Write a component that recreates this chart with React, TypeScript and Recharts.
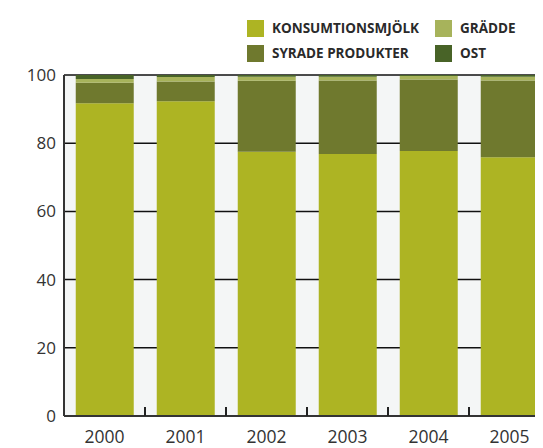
import { BarChart, Bar, XAxis, YAxis, CartesianGrid } from 'recharts';

const YEARS = ['2000', '2001', '2002', '2003', '2004', '2005'];
const KONSUMTIONSMJOLK = [91.7, 92.3, 77.5, 76.8, 77.7, 75.9];
const SYRADE = [6.0, 5.8, 20.8, 21.6, 21.0, 22.5];
const GRADDE = [1.1, 1.3, 1.2, 1.1, 1.0, 1.1];
const OST = [1.2, 0.6, 0.5, 0.5, 0.3, 0.5];
const Y_TICKS = [0, 20, 40, 60, 80, 100];

const SERIES = [
  { key: 'konsum', label: 'KONSUMTIONSMJÖLK', color: '#adb423' },
  { key: 'syrade', label: 'SYRADE PRODUKTER', color: '#6f792e' },
  { key: 'gradde', label: 'GRÄDDE', color: '#a7b35b' },
  { key: 'ost', label: 'OST', color: '#486327' },
];

const data = YEARS.map((year, i) => ({
  year,
  konsum: KONSUMTIONSMJOLK[i],
  syrade: SYRADE[i],
  gradde: GRADDE[i],
  ost: OST[i],
}));

const FONT = '"Open Sans", sans-serif';

// category label in the middle, small upward tick at the band's right edge
function YearTick(props: any) {
  const { x, y, payload, width, visibleTicksCount } = props;
  const band = width / (visibleTicksCount || YEARS.length);
  const edge = x + band / 2;
  const axisY = y - 8;
  return (
    <g>
      <line x1={edge} x2={edge} y1={axisY - 9} y2={axisY} stroke="#222" strokeWidth={2} />
      <text x={x} y={axisY + 15} dy="0.71em" textAnchor="middle" fontSize={17.5} fill="#333" fontFamily={FONT}>
        {payload.value}
      </text>
    </g>
  );
}

function LegendBox() {
  const order = [SERIES[0], SERIES[2], SERIES[1], SERIES[3]];
  return (
    <div
      style={{
        position: 'absolute',
        left: 239,
        top: 12,
        display: 'grid',
        gridTemplateColumns: '188px 100px',
        rowGap: 8,
        fontFamily: FONT,
        fontWeight: 700,
        fontSize: 13.5,
        lineHeight: '17px',
        color: '#2a2a2a',
      }}
    >
      {order.map((s) => (
        <div key={s.key} style={{ display: 'flex', alignItems: 'center', height: 17 }}>
          <span style={{ width: 17, height: 17, background: s.color, marginRight: 8, display: 'inline-block', flex: 'none' }} />
          <span style={{ whiteSpace: 'nowrap' }}>{s.label}</span>
        </div>
      ))}
    </div>
  );
}

export default function App() {
  // plot runs past the right edge of the window, like the cropped original
  return (
    <div style={{ position: 'relative', width: 535, height: 440, overflow: 'hidden', background: '#fff' }}>
      <BarChart
        width={535}
        height={440}
        data={data}
        margin={{ top: 67, right: -7, left: 0, bottom: 2 }}
        barCategoryGap="14.5%"
      >
        <CartesianGrid vertical={false} stroke="#111" strokeWidth={1.5} fill="#f4f6f6" />
        <YAxis
          width={56}
          domain={[0, 100]}
          ticks={Y_TICKS}
          interval={0}
          tickLine={false}
          axisLine={{ stroke: '#333', strokeWidth: 2 }}
          tickSize={6}
          tickMargin={2}
          tick={{ fontSize: 17, fill: '#333', fontFamily: FONT }}
        />
        <XAxis
          dataKey="year"
          interval={0}
          height={30}
          tickLine={false}
          axisLine={{ stroke: '#333', strokeWidth: 2 }}
          tick={<YearTick />}
        />
        {SERIES.map((s) => (
          <Bar key={s.key} dataKey={s.key} stackId="a" fill={s.color} isAnimationActive={false} />
        ))}
      </BarChart>
      <LegendBox />
    </div>
  );
}
